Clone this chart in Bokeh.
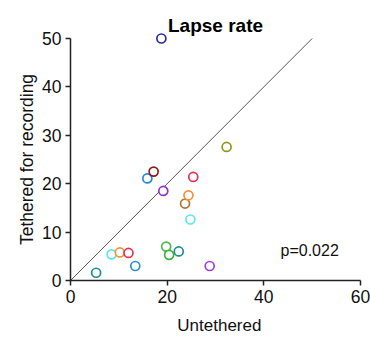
import math
from bokeh.plotting import figure
from bokeh.models import Label, Range1d
from bokeh.embed import file_html
from bokeh.resources import INLINE

# Lapse rate (%) per animal: untethered vs tethered for recording
untethered = [18.8, 5.3, 8.5, 10.2, 12.0, 13.4, 15.9, 17.2, 19.2, 19.8, 20.4,
              22.4, 23.7, 24.4, 25.4, 24.8, 28.8, 32.3]
tethered = [50.0, 1.6, 5.4, 5.8, 5.7, 3.0, 21.1, 22.5, 18.5, 7.0, 5.3,
            6.0, 15.9, 17.6, 21.4, 12.6, 3.0, 27.6]
animal_colors = ["#2a2aa0", "#1a8f8f", "#5ae6f0", "#f39237", "#e8324f", "#2b8fd6",
                 "#2a8ad8", "#8e1b1b", "#9433c6", "#4cbb4c", "#3cb43c",
                 "#1f8f9a", "#b57334", "#f39237", "#e8324f", "#5ae6f0", "#a040d0",
                 "#8c9a16"]
identity = [0, 50]
x_ticks = [0, 20, 40, 60]
y_ticks = [0, 10, 20, 30, 40, 50]
p_text = "p=0.022"

FONT = "Liberation Sans"

# the data area fills the whole canvas; axes sit at x=0 / y=0 inside it
p = figure(width=370, height=337, output_backend="svg", toolbar_location=None,
           x_range=Range1d(-14.483, 62.069), y_range=Range1d(-11.777, 57.851),
           min_border=0, min_border_left=0, min_border_right=0,
           min_border_top=0, min_border_bottom=0)
p.outline_line_color = None
p.grid.visible = False
p.background_fill_color = "white"
p.border_fill_color = "white"

# unity line
p.line(identity, identity, line_color="#555555", line_width=1)

p.scatter(untethered, tethered, size=9, marker="circle", fill_color="white",
          line_color=animal_colors, line_width=1.7)

for ax in (p.xaxis[0], p.yaxis[0]):
    ax.fixed_location = 0
    ax.axis_line_color = "#222222"
    ax.axis_line_width = 1.5
    ax.major_tick_line_color = "#222222"
    ax.major_tick_line_width = 1.5
    ax.major_tick_out = 5
    ax.major_tick_in = 0
    ax.minor_tick_line_color = None
    ax.major_label_text_font = FONT
    ax.major_label_text_font_size = "17.5px"
    ax.major_label_text_color = "#111111"

p.xaxis.ticker = x_ticks
p.yaxis.ticker = y_ticks
p.xaxis.bounds = (0, 60)
p.yaxis.bounds = (0, 50)
p.yaxis.major_label_standoff = 4
p.xaxis.major_label_standoff = 5

p.add_layout(Label(x=-8.9, y=25, text="Tethered for recording", angle=math.pi / 2,
                   text_font=FONT, text_font_size="17.5px", text_color="#111111",
                   text_align="center", text_baseline="middle"))

p.add_layout(Label(x=30.8, y=-9.3, text="Untethered", text_font=FONT,
                   text_font_size="17px", text_color="#111111",
                   text_align="center", text_baseline="alphabetic"))

p.add_layout(Label(x=30.0, y=52.6, text="Lapse rate", text_font=FONT,
                   text_font_size="19px", text_font_style="bold", text_color="#000000",
                   text_align="center", text_baseline="alphabetic"))

p.add_layout(Label(x=43.45, y=6.2, text=p_text, text_font=FONT,
                   text_font_size="16px", text_color="#111111",
                   text_align="left", text_baseline="alphabetic"))

open("out.html", "w").write(file_html(p, INLINE))
